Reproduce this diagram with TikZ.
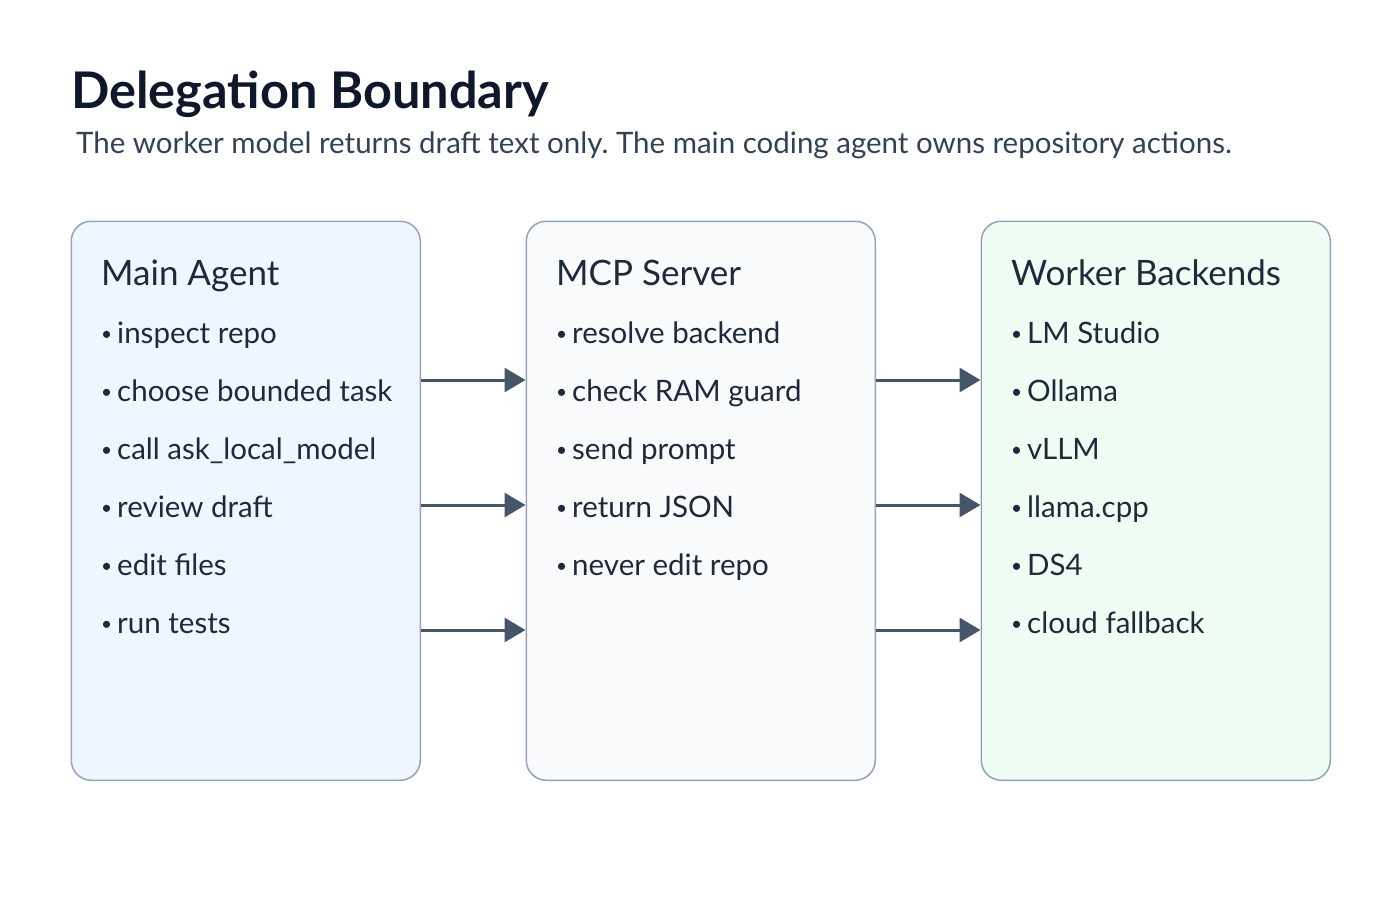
\documentclass[tikz,border=0pt]{standalone}
\usepackage{fontspec}
\setmainfont{Lato}
\usetikzlibrary{arrows.meta}
\frenchspacing

\definecolor{ink}{HTML}{0F172A}
\definecolor{subink}{HTML}{334155}
\definecolor{body}{HTML}{1E293B}
\definecolor{edge}{HTML}{94A3B8}
\definecolor{arrowc}{HTML}{475569}
\definecolor{agentfill}{HTML}{EFF6FF}
\definecolor{serverfill}{HTML}{F8FAFC}
\definecolor{workerfill}{HTML}{F0FDF4}

% small list dot followed by a fixed gap
\newcommand{\dotitem}{\makebox[16pt][l]{\raisebox{3pt}{\fontsize{19}{19}\selectfont\textbullet}}}

\begin{document}
\begin{tikzpicture}[x=1pt,y=-1pt,
    panel/.style={draw=edge, line width=1.5pt, rounded corners=20pt,
      inner sep=0pt, minimum width=349pt, minimum height=559pt, anchor=north west},
    head/.style={anchor=base west, inner sep=0pt, text=body,
      font=\fontsize{35}{40}\selectfont},
    item/.style={anchor=base west, inner sep=0pt, text=body,
      font=\fontsize{29.5}{34}\selectfont},
    flow/.style={draw=arrowc, line width=3pt,
      -{Triangle[length=21pt,width=24pt]}}]
  \useasboundingbox (0,0) rectangle (1400,900);

  % title block
  \node[anchor=base west, inner sep=0pt, text=ink,
    font=\fontsize{50.5}{56}\selectfont\bfseries] (title) at (71,108)
    {Delegation Boundary};
  \node[anchor=base west, inner sep=0pt, text=subink,
    font=\fontsize{29.5}{34}\selectfont] (subtitle) at (76,153)
    {The worker model returns draft text only. The main coding agent owns repository actions.};

  % the three columns
  \node[panel, fill=agentfill] (agent) at (70.5,220.5) {};
  \node[panel, fill=serverfill] (server) at (525.5,220.5) {};
  \node[panel, fill=workerfill] (worker) at (980.5,220.5) {};

  \node[head] (agenthead) at (101,285) {Main Agent};
  \node[item] (a1) at (101,343) {\dotitem inspect repo};
  \node[item] (a2) at (101,401) {\dotitem choose bounded task};
  \node[item] (a3) at (101,459) {\dotitem call ask\_local\_model};
  \node[item] (a4) at (101,517) {\dotitem review draft};
  \node[item] (a5) at (101,575) {\dotitem edit files};
  \node[item] (a6) at (101,633) {\dotitem run tests};

  \node[head] (serverhead) at (556,285) {MCP Server};
  \node[item] (s1) at (556,343) {\dotitem resolve backend};
  \node[item] (s2) at (556,401) {\dotitem check RAM guard};
  \node[item] (s3) at (556,459) {\dotitem send prompt};
  \node[item] (s4) at (556,517) {\dotitem return JSON};
  \node[item] (s5) at (556,575) {\dotitem never edit repo};

  \node[head] (workerhead) at (1011,285) {Worker Backends};
  \node[item] (w1) at (1011,343) {\dotitem LM Studio};
  \node[item] (w2) at (1011,401) {\dotitem Ollama};
  \node[item] (w3) at (1011,459) {\dotitem vLLM};
  \node[item] (w4) at (1011,517) {\dotitem llama.cpp};
  \node[item] (w5) at (1011,575) {\dotitem DS4};
  \node[item] (w6) at (1011,633) {\dotitem cloud fallback};

  % hand-off arrows between columns
  \coordinate (r1) at (0,380);
  \coordinate (r2) at (0,505);
  \coordinate (r3) at (0,630);
  \draw[flow] (agent.east |- r1) -- (server.west |- r1);
  \draw[flow] (agent.east |- r2) -- (server.west |- r2);
  \draw[flow] (agent.east |- r3) -- (server.west |- r3);
  \draw[flow] (server.east |- r1) -- (worker.west |- r1);
  \draw[flow] (server.east |- r2) -- (worker.west |- r2);
  \draw[flow] (server.east |- r3) -- (worker.west |- r3);
\end{tikzpicture}
\end{document}
